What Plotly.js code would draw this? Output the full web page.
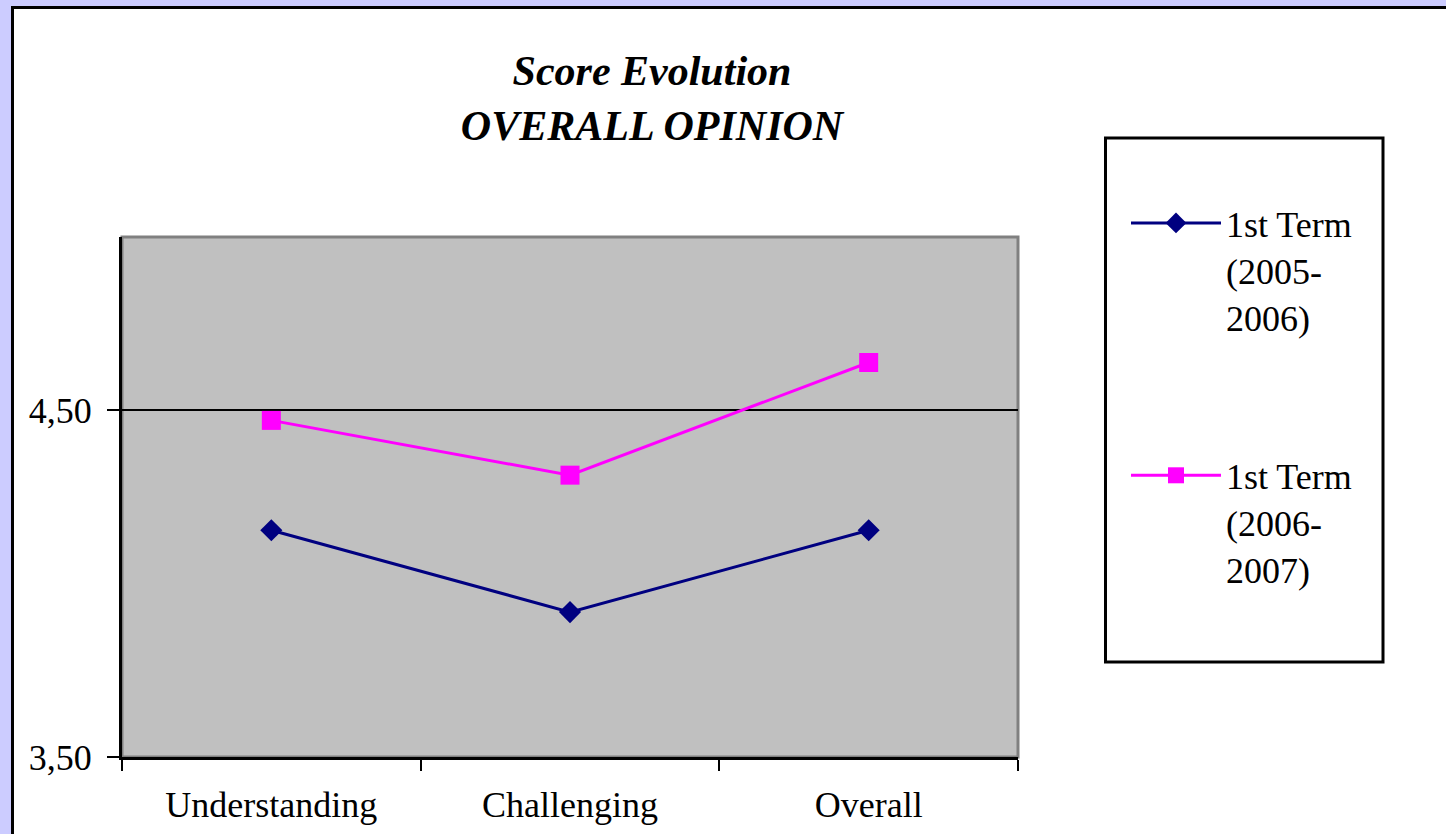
<!DOCTYPE html>
<html>
<head>
<meta charset="utf-8">
<script src="https://cdn.plot.ly/plotly-3.0.1.min.js"></script>
<style>
html, body { margin: 0; padding: 0; background: #CCCCFF; }
#chart { width: 1446px; height: 834px; }
</style>
</head>
<body>
<div id="chart"></div>
<script>
const categories = ["Understanding", "Challenging", "Overall"];
const term2005 = [4.154, 3.918, 4.154];
const term2006 = [4.471, 4.313, 4.638];
const seriesNames = ["1st Term<br>(2005-<br>2006)", "1st Term<br>(2006-<br>2007)"];
const yTickVals = [3.5, 4.5];
const yTickText = ["3,50", "4,50"];

const serif = "'Liberation Serif', 'Times New Roman', serif";

const traces = [
  {
    x: categories, y: term2005, name: seriesNames[0], type: "scatter", mode: "lines+markers",
    line: { color: "#000080", width: 3 },
    marker: { symbol: "diamond", size: 17, color: "#000080" },
    legendgroup: "a"
  },
  {
    x: categories, y: term2006, name: seriesNames[1], type: "scatter", mode: "lines+markers",
    line: { color: "#FF00FF", width: 3 },
    marker: { symbol: "square", size: 19, color: "#FF00FF" },
    legendgroup: "b"
  }
];

const layout = {
  width: 1446, height: 834,
  margin: { l: 122, r: 428, t: 237, b: 77, pad: 0 },
  paper_bgcolor: "#CCCCFF",
  plot_bgcolor: "rgba(0,0,0,0)",
  font: { family: serif, color: "#000000", size: 36 },
  title: {
    text: "Score Evolution<br>OVERALL OPINION",
    font: { family: serif, size: 42, weight: "bold", style: "italic", color: "#000000" },
    x: 652 / 1446, xref: "container", xanchor: "center",
    y: 1 - 85 / 834, yref: "container", yanchor: "top"
  },
  xaxis: {
    type: "category", range: [-0.5, 2.5], tickson: "boundaries",
    ticks: "outside", ticklen: 11, tickwidth: 2, tickcolor: "#000000",
    showline: true, linecolor: "#000000", linewidth: 3,
    showgrid: false, zeroline: false,
    tickfont: { family: serif, size: 36, color: "#000000" },
    ticklabelstandoff: 14,
    fixedrange: true
  },
  yaxis: {
    range: [3.5, 5.0], tickvals: yTickVals, ticktext: yTickText,
    ticks: "outside", ticklen: 12, tickwidth: 2, tickcolor: "#000000",
    showline: true, linecolor: "#000000", linewidth: 3,
    showgrid: true, gridcolor: "#000000", gridwidth: 2, zeroline: false,
    tickfont: { family: serif, size: 36, color: "#000000" },
    ticklabelstandoff: 8,
    fixedrange: true
  },
  showlegend: true,
  legend: {
    x: (1126 - 122) / 896, xanchor: "left", xref: "paper",
    y: (757 - 193) / 520, yanchor: "top", yref: "paper",
    bgcolor: "rgba(0,0,0,0)", borderwidth: 0,
    font: { family: serif, size: 36, color: "#000000" },
    traceorder: "grouped", tracegroupgap: 109,
    valign: "top", itemwidth: 90
  },
  shapes: [
    {
      type: "rect", xref: "paper", yref: "paper", layer: "below",
      x0: (12.5 - 122) / 896, x1: (1460 - 122) / 896,
      y0: (757 - 850) / 520, y1: (757 - 7.5) / 520,
      fillcolor: "#FFFFFF", line: { color: "#000000", width: 3 }
    },
    {
      type: "rect", xref: "paper", yref: "paper", layer: "below",
      x0: 0, x1: 1, y0: 0, y1: 1,
      fillcolor: "#C0C0C0", line: { color: "#808080", width: 3 }
    },
    {
      type: "rect", xref: "paper", yref: "paper", layer: "below",
      x0: (1105.5 - 122) / 896, x1: (1383 - 122) / 896,
      y0: (757 - 662) / 520, y1: (757 - 138) / 520,
      fillcolor: "rgba(0,0,0,0)", line: { color: "#000000", width: 3 }
    }
  ]
};

Plotly.newPlot("chart", traces, layout, { displayModeBar: false, staticPlot: true });
</script>
</body>
</html>
